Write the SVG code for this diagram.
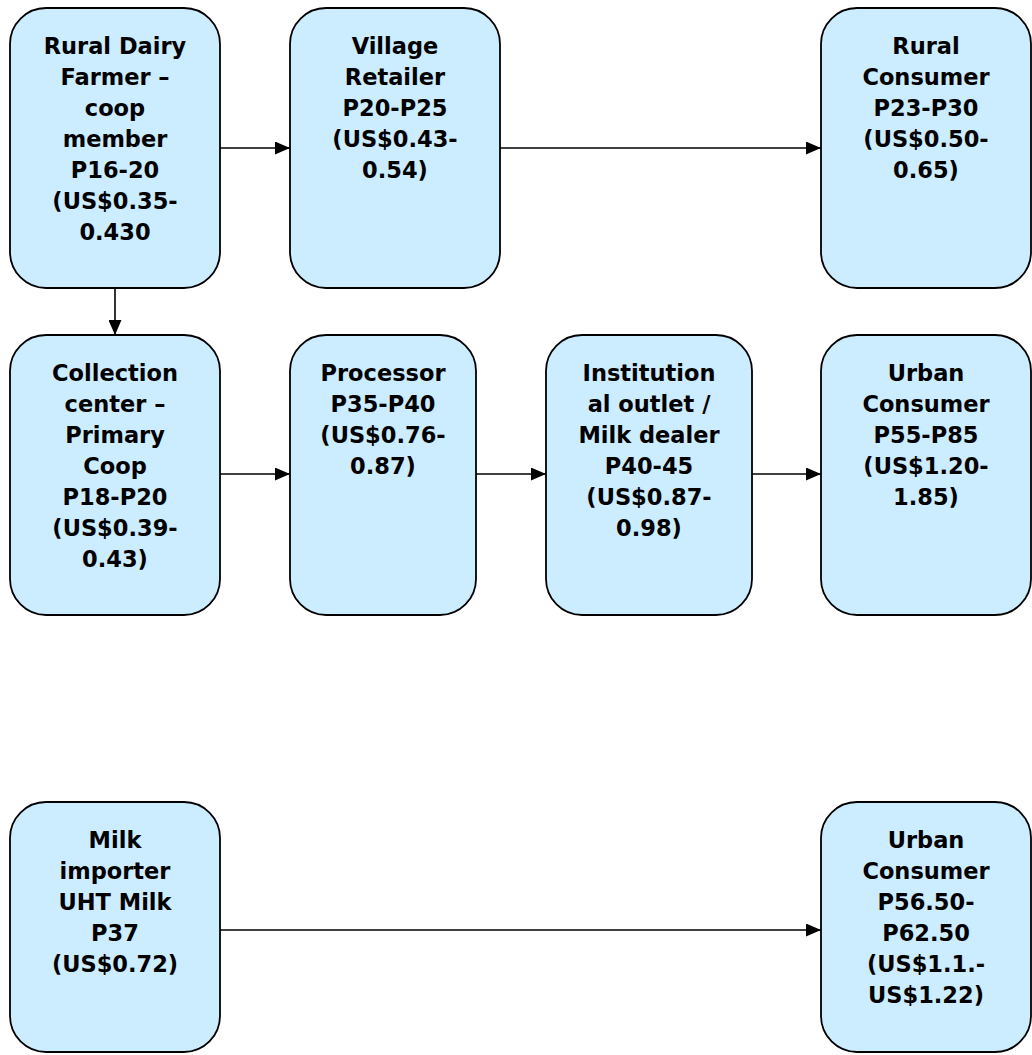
<svg xmlns="http://www.w3.org/2000/svg" width="1032" height="1055" viewBox="0 0 1032 1055">
<style>
.node rect{fill:#CCECFF;stroke:#000;stroke-width:1.8}
.node text{font-family:"DejaVu Sans",Verdana,sans-serif;font-weight:bold;font-size:22.5px;fill:#000;text-anchor:middle}
.conn line{stroke:#000;stroke-width:1.6;fill:none}
</style>
<defs>
<marker id="ah" viewBox="0 0 10 10" refX="10" refY="5" markerUnits="userSpaceOnUse" markerWidth="15" markerHeight="13" preserveAspectRatio="none" orient="auto">
<path d="M0,0 L10,5 L0,10 Z" fill="#000"/>
</marker>
</defs>
<rect width="1032" height="1055" fill="#fff"/>
<g id="connectors" class="conn">
<line x1="220" y1="148" x2="290" y2="148" marker-end="url(#ah)"/>
<line x1="500" y1="148" x2="821" y2="148" marker-end="url(#ah)"/>
<line x1="115" y1="288" x2="115" y2="335" marker-end="url(#ah)"/>
<line x1="220" y1="474" x2="290" y2="474" marker-end="url(#ah)"/>
<line x1="476" y1="474" x2="546" y2="474" marker-end="url(#ah)"/>
<line x1="752" y1="474" x2="821" y2="474" marker-end="url(#ah)"/>
<line x1="220" y1="930" x2="821" y2="930" marker-end="url(#ah)"/>
</g>
<g id="rural-dairy-farmer" class="node">
<rect x="10" y="8" width="210" height="280" rx="36"/>
<text x="115"><tspan x="115" y="54">Rural Dairy</tspan><tspan x="115" y="85">Farmer –</tspan><tspan x="115" y="116">coop</tspan><tspan x="115" y="147">member</tspan><tspan x="115" y="178">P16-20</tspan><tspan x="115" y="209">(US$0.35-</tspan><tspan x="115" y="240">0.430</tspan></text>
</g>
<g id="village-retailer" class="node">
<rect x="290" y="8" width="210" height="280" rx="36"/>
<text x="395"><tspan x="395" y="54">Village</tspan><tspan x="395" y="85">Retailer</tspan><tspan x="395" y="116">P20-P25</tspan><tspan x="395" y="147">(US$0.43-</tspan><tspan x="395" y="178">0.54)</tspan></text>
</g>
<g id="rural-consumer" class="node">
<rect x="821" y="8" width="210" height="280" rx="36"/>
<text x="926"><tspan x="926" y="54">Rural</tspan><tspan x="926" y="85">Consumer</tspan><tspan x="926" y="116">P23-P30</tspan><tspan x="926" y="147">(US$0.50-</tspan><tspan x="926" y="178">0.65)</tspan></text>
</g>
<g id="collection-center" class="node">
<rect x="10" y="335" width="210" height="280" rx="36"/>
<text x="115"><tspan x="115" y="381">Collection</tspan><tspan x="115" y="412">center –</tspan><tspan x="115" y="443">Primary</tspan><tspan x="115" y="474">Coop</tspan><tspan x="115" y="505">P18-P20</tspan><tspan x="115" y="536">(US$0.39-</tspan><tspan x="115" y="567">0.43)</tspan></text>
</g>
<g id="processor" class="node">
<rect x="290" y="335" width="186" height="280" rx="36"/>
<text x="383"><tspan x="383" y="381">Processor</tspan><tspan x="383" y="412">P35-P40</tspan><tspan x="383" y="443">(US$0.76-</tspan><tspan x="383" y="474">0.87)</tspan></text>
</g>
<g id="institutional-outlet" class="node">
<rect x="546" y="335" width="206" height="280" rx="36"/>
<text x="649"><tspan x="649" y="381">Institution</tspan><tspan x="649" y="412">al outlet /</tspan><tspan x="649" y="443">Milk dealer</tspan><tspan x="649" y="474">P40-45</tspan><tspan x="649" y="505">(US$0.87-</tspan><tspan x="649" y="536">0.98)</tspan></text>
</g>
<g id="urban-consumer-1" class="node">
<rect x="821" y="335" width="210" height="280" rx="36"/>
<text x="926"><tspan x="926" y="381">Urban</tspan><tspan x="926" y="412">Consumer</tspan><tspan x="926" y="443">P55-P85</tspan><tspan x="926" y="474">(US$1.20-</tspan><tspan x="926" y="505">1.85)</tspan></text>
</g>
<g id="milk-importer" class="node">
<rect x="10" y="802" width="210" height="250" rx="36"/>
<text x="115"><tspan x="115" y="848">Milk</tspan><tspan x="115" y="879">importer</tspan><tspan x="115" y="910">UHT Milk</tspan><tspan x="115" y="941">P37</tspan><tspan x="115" y="972">(US$0.72)</tspan></text>
</g>
<g id="urban-consumer-2" class="node">
<rect x="821" y="802" width="210" height="250" rx="36"/>
<text x="926"><tspan x="926" y="848">Urban</tspan><tspan x="926" y="879">Consumer</tspan><tspan x="926" y="910">P56.50-</tspan><tspan x="926" y="941">P62.50</tspan><tspan x="926" y="972">(US$1.1.-</tspan><tspan x="926" y="1003">US$1.22)</tspan></text>
</g>
</svg>
